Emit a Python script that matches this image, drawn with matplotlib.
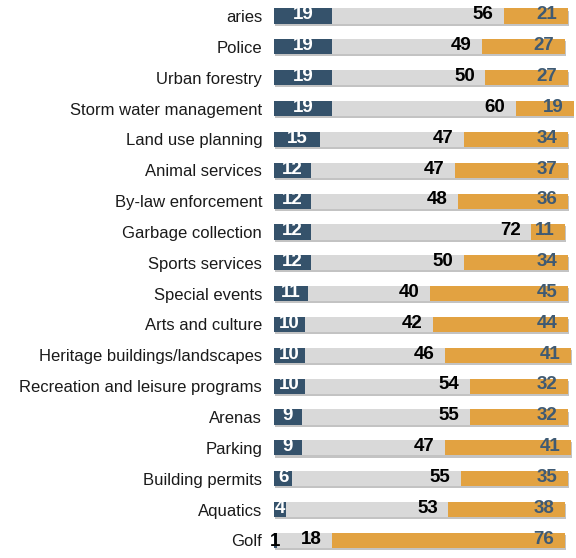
import numpy as np
import matplotlib.pyplot as plt
import matplotlib.patheffects as pe

plt.rcParams['font.family'] = ['Liberation Sans', 'DejaVu Sans']

services = ['aries', 'Police', 'Urban forestry', 'Storm water management',
            'Land use planning', 'Animal services', 'By-law enforcement',
            'Garbage collection', 'Sports services', 'Special events',
            'Arts and culture', 'Heritage buildings/landscapes',
            'Recreation and leisure programs', 'Arenas', 'Parking',
            'Building permits', 'Aquatics', 'Golf']
increase = [19, 19, 19, 19, 15, 12, 12, 12, 12, 11, 10, 10, 10, 9, 9, 6, 4, 1]
same = [56, 49, 50, 60, 47, 47, 48, 72, 50, 40, 42, 46, 54, 55, 47, 55, 53, 18]
decrease = [21, 27, 27, 19, 34, 37, 36, 11, 34, 45, 44, 41, 32, 32, 41, 35, 38, 76]

c_blue = '#35526b'
c_gray = '#d9d9d9'
c_orange = '#e2a241'
c_otext = '#3f5a73'

W, H = 576, 558
fig = plt.figure(figsize=(W / 100, H / 100), dpi=100)
px_unit = 3.06
x0 = 274
xmax = 98
ax = fig.add_axes([x0 / W, 0, xmax * px_unit / W, 1])

row = 30.85
top = 16
y = np.arange(len(services))
inc = np.array(increase)
mid = np.array(same)
dec = np.array(decrease)

shadow = [pe.SimplePatchShadow(offset=(1, -1.5), shadow_rgbFace='#888888', alpha=0.5), pe.Normal()]
h = 0.49
b1 = ax.barh(y, inc, height=h, color=c_blue, linewidth=0)
b2 = ax.barh(y, mid, left=inc, height=h, color=c_gray, linewidth=0)
b3 = ax.barh(y, dec, left=inc + mid, height=h, color=c_orange, linewidth=0)
for bars in (b1, b2, b3):
    for p in bars:
        p.set_path_effects(shadow)

pad = 3.4
fs = 13.5
for i in range(len(services)):
    if inc[i] > 2:
        ax.text(inc[i] / 2, y[i] - 0.04, str(inc[i]), ha='center', va='center',
                color='white', fontsize=fs, fontweight='bold')
    else:
        ax.text(inc[i] / 2 - 0.3, y[i] + 0.02, str(inc[i]), ha='center', va='center',
                color='black', fontsize=fs, fontweight='bold')
    ax.text(inc[i] + mid[i] - pad, y[i] - 0.04, str(mid[i]), ha='right', va='center',
            color='black', fontsize=fs, fontweight='bold')
    ax.text(inc[i] + mid[i] + dec[i] - pad, y[i] - 0.04, str(dec[i]), ha='right',
            va='center', color=c_otext, fontsize=fs, fontweight='bold')

ax.set_xlim(0, xmax)
ax.set_ylim((H - top) / row, -top / row)
ax.set_yticks(y)
ax.set_yticklabels(services, fontsize=12, color='#1a1a1a')
ax.tick_params(axis='y', length=0, pad=8.5)
ax.set_xticks([])
for s in ax.spines.values():
    s.set_visible(False)

fig.savefig('out.png', dpi=100)
